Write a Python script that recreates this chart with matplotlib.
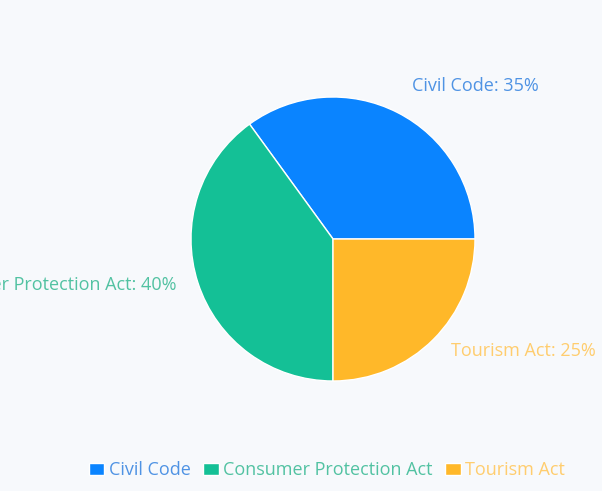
import matplotlib
matplotlib.use("Agg")
import matplotlib.pyplot as plt

categories = ["Civil Code", "Consumer Protection Act", "Tourism Act"]
values = [35, 40, 25]
colors = ["#0a84ff", "#14c096", "#ffb829"]
label_colors = ["#4f93e4", "#52c2a2", "#ffcd6e"]

plt.rcParams['font.family'] = ['Open Sans', 'DejaVu Sans']
bg = "#f7f9fc"
fig = plt.figure(figsize=(6.02, 4.91), dpi=100, facecolor=bg)
ax = fig.add_axes([0, 0, 1, 1])
ax.set_facecolor(bg)

cx, cy, r = 333, 491 - 239, 142
wedges, _ = ax.pie(values, colors=colors, startangle=0, counterclock=True,
                   center=(cx, cy), radius=r, frame=True,
                   wedgeprops=dict(edgecolor="white", linewidth=1))
ax.set_xlim(0, 602)
ax.set_ylim(0, 491)
ax.set_aspect('equal')
ax.axis('off')

fs = 13
# slice labels
ax.text(539, 491 - 86, f"{categories[0]}: {values[0]}%", color=label_colors[0],
        fontsize=fs, ha='right', va='center')
ax.text(176, 491 - 285, f"{categories[1]}: {values[1]}%", color=label_colors[1],
        fontsize=fs, ha='right', va='center')
ax.text(451, 491 - 351, f"{categories[2]}: {values[2]}%", color=label_colors[2],
        fontsize=fs, ha='left', va='center')

leg = ax.legend(wedges, categories, loc='center', bbox_to_anchor=(327 / 602, 1 - 470 / 491),
                ncol=3, frameon=False, fontsize=fs, handlelength=0.85, handleheight=0.65,
                handletextpad=0.25, columnspacing=0.7, labelcolor=label_colors)

fig.savefig("out.png", dpi=100, facecolor=bg)
